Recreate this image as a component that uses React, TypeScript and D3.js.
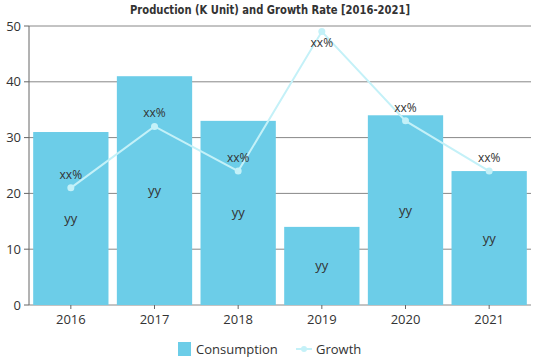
import * as d3 from "d3";

const years = ["2016", "2017", "2018", "2019", "2020", "2021"];
const consumption = [31, 41, 33, 14, 34, 24];
const growth = [21, 32, 24, 49, 33, 24];
const yTicks = [0, 10, 20, 30, 40, 50];

const W = 539;
const H = 359;
const m = { left: 29, right: 8, top: 26, bottom: 54 };

export default function App() {
  const x = d3
    .scaleBand()
    .domain(years)
    .range([m.left, W - m.right])
    .paddingInner(0.1)
    .paddingOuter(0.05);
  const y = d3.scaleLinear().domain([0, 50]).range([H - m.bottom, m.top]);
  const cx = (d: string) => x(d)! + x.bandwidth() / 2;

  const line = d3
    .line<number>()
    .x((_, i) => cx(years[i]))
    .y((d) => y(d));

  const barColor = "#6ccde8";
  const lineColor = "#c4f1f8";
  const font = "'Open Sans', 'DejaVu Sans', sans-serif";

  return (
    <svg
      width={W}
      height={H}
      style={{ position: "absolute", left: 0, top: 0, background: "#fff" }}
      fontFamily={font}
    >
      <text
        x={270}
        y={14}
        textAnchor="middle"
        fontFamily="'DejaVu Sans Condensed', 'Liberation Sans Narrow', sans-serif"
        fontWeight="bold"
        fontSize={13}
        textLength={280}
        lengthAdjust="spacingAndGlyphs"
        fill="#333"
      >
        Production (K Unit) and Growth Rate [2016-2021]
      </text>

      {yTicks.map((t) => (
        <g key={t}>
          <line
            x1={m.left}
            x2={W - m.right}
            y1={y(t)}
            y2={y(t)}
            stroke="#888"
            strokeWidth={1}
          />
          <line x1={m.left - 5} x2={m.left} y1={y(t)} y2={y(t)} stroke="#666" />
          <text
            x={m.left - 8}
            y={y(t)}
            dy="0.35em"
            textAnchor="end"
            fontSize={13}
            fill="#333"
          >
            {t}
          </text>
        </g>
      ))}
      <line x1={m.left} x2={m.left} y1={y(50)} y2={y(0)} stroke="#666" />

      {consumption.map((v, i) => (
        <rect
          key={years[i]}
          x={x(years[i])}
          y={y(v)}
          width={x.bandwidth()}
          height={y(0) - y(v)}
          fill={barColor}
        />
      ))}

      {years.map((yr) => (
        <g key={yr}>
          <line x1={cx(yr)} x2={cx(yr)} y1={y(0)} y2={y(0) + 4} stroke="#666" />
          <text
            x={cx(yr)}
            y={y(0) + 19}
            textAnchor="middle"
            fontSize={13}
            fill="#333"
          >
            {yr}
          </text>
        </g>
      ))}

      {consumption.map((v, i) => (
        <text
          key={"yy" + i}
          x={cx(years[i])}
          y={y(v / 2)}
          dy="0.35em"
          textAnchor="middle"
          fontSize={13}
          fill="#333"
        >
          yy
        </text>
      ))}

      <path d={line(growth)!} fill="none" stroke={lineColor} strokeWidth={2} />
      {growth.map((v, i) => (
        <circle key={"c" + i} cx={cx(years[i])} cy={y(v)} r={3.5} fill={lineColor} />
      ))}
      {growth.map((v, i) => (
        <text
          key={"xx" + i}
          x={cx(years[i])}
          y={y(v) > 50 ? y(v) - 9 : y(v) + 15}
          textAnchor="middle"
          fontSize={12}
          fill="#333"
        >
          xx%
        </text>
      ))}

      <g transform="translate(178,349)">
        <rect x={0} y={-7} width={13} height={14} fill={barColor} />
        <text x={18} y={0} dy="0.35em" fontSize={13} fill="#333">
          Consumption
        </text>
        <line x1={118} x2={134} y1={0} y2={0} stroke={lineColor} strokeWidth={2} />
        <circle cx={126} cy={0} r={3} fill={lineColor} />
        <text x={138} y={0} dy="0.35em" fontSize={13} fill="#333">
          Growth
        </text>
      </g>
    </svg>
  );
}
